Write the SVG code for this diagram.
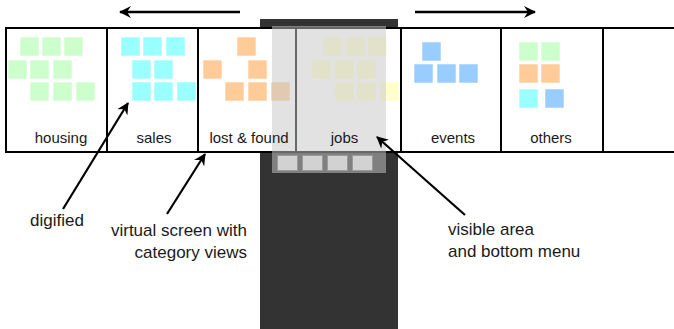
<svg xmlns="http://www.w3.org/2000/svg" width="674" height="329" viewBox="0 0 674 329">
<style>
  .panel{fill:#fff;stroke:#000;stroke-width:2}
  .t{stroke:#fff;stroke-width:0.8;stroke-opacity:0.7}
  .g{fill:#ccffcc}.c{fill:#99ffff}.o{fill:#ffcc99}.y{fill:#ffffcc}.b{fill:#99ccff}
  .lbl{font-family:"Liberation Sans",Arial,sans-serif;font-size:15px;fill:#1a1a1a;text-anchor:middle}
  .note{font-family:"Liberation Sans",Arial,sans-serif;font-size:17px;fill:#1a1a1a}
  .arrow{stroke:#000;fill:none}
  .btn{fill:#d2d2d2;stroke:#9a9a9a;stroke-width:1}
</style>
<defs>
  <marker id="ah" viewBox="0 0 12 12" refX="11" refY="6" markerWidth="12" markerHeight="12" markerUnits="userSpaceOnUse" orient="auto">
    <path d="M0,0 L12,6 L0,12 L4,6 z" fill="#000"/>
  </marker>
</defs>
<rect width="674" height="329" fill="#fff"/>

<g id="phone">
  <rect x="260" y="19" width="138" height="310" fill="#333"/>
</g>

<g id="strip">
  <g id="housing">
    <rect class="panel" x="6" y="28" width="101" height="124"/>
    <rect class="t g" x="20" y="37" width="19" height="19"/><rect class="t g" x="42" y="37" width="19" height="19"/><rect class="t g" x="64" y="37" width="19" height="19"/>
    <rect class="t g" x="8" y="60" width="19" height="19"/><rect class="t g" x="30" y="60" width="19" height="19"/><rect class="t g" x="53" y="60" width="19" height="19"/>
    <rect class="t g" x="30" y="82" width="19" height="19"/><rect class="t g" x="53" y="82" width="19" height="19"/><rect class="t g" x="76" y="82" width="19" height="19"/>
  </g>
  <g id="sales">
    <rect class="panel" x="107" y="28" width="91" height="124"/>
    <rect class="t c" x="121" y="37" width="19" height="19"/><rect class="t c" x="143" y="37" width="19" height="19"/><rect class="t c" x="166" y="37" width="19" height="19"/>
    <rect class="t c" x="132" y="60" width="19" height="19"/><rect class="t c" x="154" y="60" width="19" height="19"/>
    <rect class="t c" x="132" y="82" width="19" height="19"/><rect class="t c" x="154" y="82" width="19" height="19"/><rect class="t c" x="177" y="82" width="19" height="19"/>
  </g>
  <g id="lost-found">
    <rect class="panel" x="198" y="28" width="98" height="124"/>
    <rect class="t o" x="237" y="37" width="19" height="19"/>
    <rect class="t o" x="203" y="60" width="19" height="19"/><rect class="t o" x="248" y="60" width="19" height="19"/>
    <rect class="t o" x="225" y="82" width="19" height="19"/><rect class="t o" x="248" y="82" width="19" height="19"/><rect class="t o" x="271" y="82" width="19" height="19"/>
  </g>
  <g id="jobs">
    <rect class="panel" x="296" y="28" width="105" height="124"/>
    <rect class="t y" x="323" y="37" width="19" height="19"/><rect class="t y" x="346" y="37" width="19" height="19"/><rect class="t y" x="368" y="37" width="19" height="19"/>
    <rect class="t y" x="312" y="60" width="19" height="19"/><rect class="t y" x="335" y="60" width="19" height="19"/><rect class="t y" x="357" y="60" width="19" height="19"/>
    <rect class="t y" x="335" y="82" width="19" height="19"/><rect class="t y" x="357" y="82" width="19" height="19"/><rect class="t y" x="380" y="82" width="19" height="19"/>
  </g>
  <g id="events">
    <rect class="panel" x="401" y="28" width="100" height="124"/>
    <rect class="t b" x="422" y="42" width="19" height="19"/>
    <rect class="t b" x="414" y="64" width="19" height="19"/><rect class="t b" x="437" y="64" width="19" height="19"/><rect class="t b" x="459" y="64" width="19" height="19"/>
  </g>
  <g id="others">
    <rect class="panel" x="501" y="28" width="102" height="124"/>
    <rect class="t g" x="519" y="42" width="19" height="19"/><rect class="t g" x="541" y="42" width="19" height="19"/>
    <rect class="t o" x="519" y="64" width="19" height="19"/><rect class="t o" x="541" y="64" width="19" height="19"/>
    <rect class="t c" x="519" y="89" width="19" height="19"/><rect class="t b" x="545" y="89" width="19" height="19"/>
  </g>
  <g id="next">
    <rect class="panel" x="603" y="28" width="80" height="124"/>
  </g>
</g>

<g id="visible-area">
  <rect x="272" y="26" width="114" height="147" fill="#c8c8c8" fill-opacity="0.52"/>
  <rect class="btn" x="277.5" y="155.5" width="20" height="15"/>
  <rect class="btn" x="302.5" y="155.5" width="20" height="15"/>
  <rect class="btn" x="327.5" y="155.5" width="20" height="15"/>
  <rect class="btn" x="352.5" y="155.5" width="20" height="15"/>
</g>

<g id="category-labels">
  <text class="lbl" x="61" y="143">housing</text>
  <text class="lbl" x="154" y="143">sales</text>
  <text class="lbl" x="249" y="143">lost &amp; found</text>
  <text class="lbl" x="344.5" y="143">jobs</text>
  <text class="lbl" x="453" y="143">events</text>
  <text class="lbl" x="551" y="143">others</text>
</g>

<g id="notes">
  <text class="note" x="30" y="226">digified</text>
  <text class="note" x="247" y="236" text-anchor="end">virtual screen with</text>
  <text class="note" x="247" y="258" text-anchor="end">category views</text>
  <text class="note" x="448" y="235">visible area</text>
  <text class="note" x="448" y="257">and bottom menu</text>
</g>

<g id="connectors">
  <line class="arrow" x1="240" y1="12" x2="120" y2="12" stroke-width="2.5" marker-end="url(#ah)"/>
  <line class="arrow" x1="415" y1="12" x2="535" y2="12" stroke-width="2.5" marker-end="url(#ah)"/>
  <line class="arrow" x1="63" y1="209" x2="128" y2="103" stroke-width="2.2" marker-end="url(#ah)"/>
  <line class="arrow" x1="167" y1="214" x2="205" y2="154" stroke-width="2.2" marker-end="url(#ah)"/>
  <line class="arrow" x1="465" y1="215" x2="377" y2="137" stroke-width="2.2" marker-end="url(#ah)"/>
</g>
</svg>
